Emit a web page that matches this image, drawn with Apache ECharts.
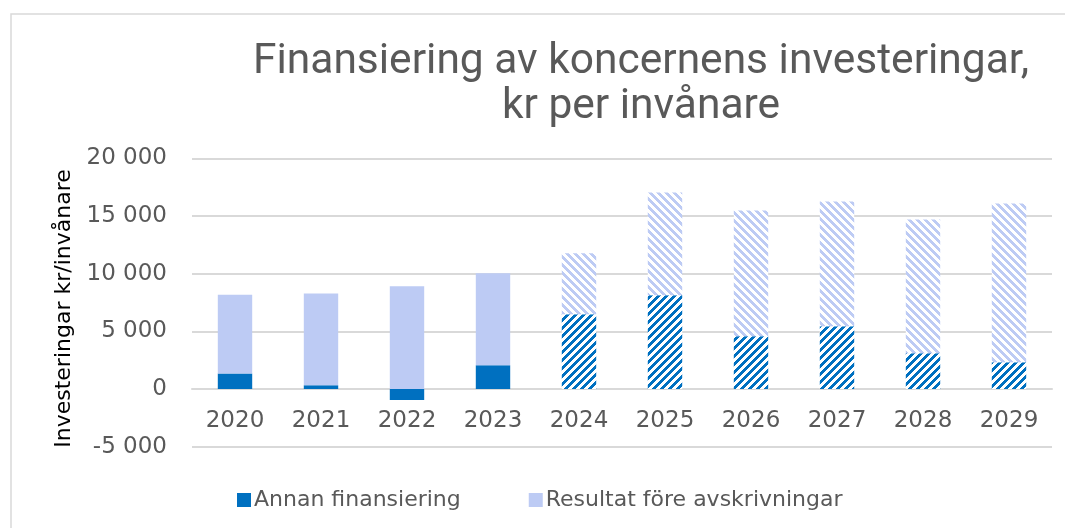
<!DOCTYPE html>
<html>
<head>
<meta charset="utf-8">
<script src="https://cdn.jsdelivr.net/npm/echarts@6/dist/echarts.min.js"></script>
<style>
  html, body { margin: 0; padding: 0; background: #fff; }
  #chart { width: 1065px; height: 528px; }
</style>
</head>
<body>
<div id="chart"></div>
<script>
// data
const years = ["2020", "2021", "2022", "2023", "2024", "2025", "2026", "2027", "2028", "2029"];
const annanFinansiering = [1350, 330, -950, 2050, 6480, 8130, 4570, 5440, 3090, 2310];
const resultatForeAvskr = [6830, 7940, 8910, 7990, 5290, 8910, 10910, 10820, 11610, 13780];
// years drawn hatched (plan/prognos)
const prognosYears = ["2024", "2025", "2026", "2027", "2028", "2029"];
const yTicks = [-5000, 0, 5000, 10000, 15000, 20000];

const darkBlue = "#0070c0";
const lightBlue = "#bdcbf4";

// small striped tile, used as a fill pattern
function stripes(color, upward) {
  const c = document.createElement("canvas");
  c.width = 8;
  c.height = 8;
  const ctx = c.getContext("2d");
  ctx.fillStyle = "#ffffff";
  ctx.fillRect(0, 0, 8, 8);
  ctx.fillStyle = color;
  for (let y = 0; y < 8; y++) {
    for (let x = 0; x < 8; x++) {
      const k = upward ? (x + y) % 8 : ((x - y) % 8 + 8) % 8;
      if (k < 4) ctx.fillRect(x, y, 1, 1);
    }
  }
  return { image: c, repeat: "repeat" };
}

const darkHatch = stripes(darkBlue, true);
const lightHatch = stripes(lightBlue, false);

function fmt(v) {
  return String(v).replace(/\B(?=(\d{3})+(?!\d))/g, " ");
}

function items(values, hatch) {
  return values.map((v, i) => {
    if (prognosYears.indexOf(years[i]) >= 0) {
      return { value: v, itemStyle: { color: hatch } };
    }
    return v;
  });
}

const labelColor = "#595959";
const font = "DejaVu Sans";

const chart = echarts.init(document.getElementById("chart"), null, { renderer: "canvas" });
chart.setOption({
  animation: false,
  title: {
    text: "Finansiering av koncernens investeringar,\nkr per invånare",
    left: 636,
    top: 35,
    textAlign: "center",
    textStyle: {
      fontFamily: "Roboto",
      fontWeight: "normal",
      fontSize: 42.5,
      lineHeight: 45,
      color: labelColor
    }
  },
  legend: {
    left: 232,
    top: 484,
    itemWidth: 14,
    itemHeight: 14,
    itemGap: 68,
    icon: "rect",
    textStyle: { fontFamily: font, fontSize: 22, color: labelColor, padding: [0, 0, 0, -2] },
    data: ["Annan finansiering", "Resultat före avskrivningar"]
  },
  graphic: [{
    type: "rect",
    shape: { x: 11, y: 14, width: 1200, height: 700 },
    style: { fill: null, stroke: "#d9d9d9", lineWidth: 1.5 },
    silent: true
  }],
  grid: { left: 192, right: 13, top: 158.3, bottom: 81.3, containLabel: false },
  xAxis: {
    type: "category",
    data: years,
    // sit the category axis on the zero line
    offset: -58.4,
    axisLine: { show: true, onZero: false, lineStyle: { color: "#d9d9d9", width: 2 } },
    axisTick: { show: false },
    axisLabel: { color: labelColor, fontFamily: font, fontSize: 23, margin: 21 }
  },
  yAxis: {
    type: "value",
    min: yTicks[0],
    max: yTicks[yTicks.length - 1],
    interval: 5000,
    name: "Investeringar kr/invånare",
    nameLocation: "middle",
    nameGap: 116,
    nameTextStyle: { fontFamily: font, fontSize: 22, color: "#000000", padding: [0, 12, 0, 0] },
    axisLine: { show: false },
    axisTick: { show: false },
    axisLabel: { color: labelColor, fontFamily: font, fontSize: 23, margin: 25, formatter: fmt },
    splitLine: { lineStyle: { color: "#d9d9d9", width: 2 } }
  },
  series: [
    {
      name: "Annan finansiering",
      type: "bar",
      stack: "fin",
      barWidth: "40%",
      itemStyle: { color: darkBlue },
      data: items(annanFinansiering, darkHatch)
    },
    {
      name: "Resultat före avskrivningar",
      type: "bar",
      stack: "fin",
      barWidth: "40%",
      itemStyle: { color: lightBlue },
      data: items(resultatForeAvskr, lightHatch)
    }
  ]
});
</script>
</body>
</html>
